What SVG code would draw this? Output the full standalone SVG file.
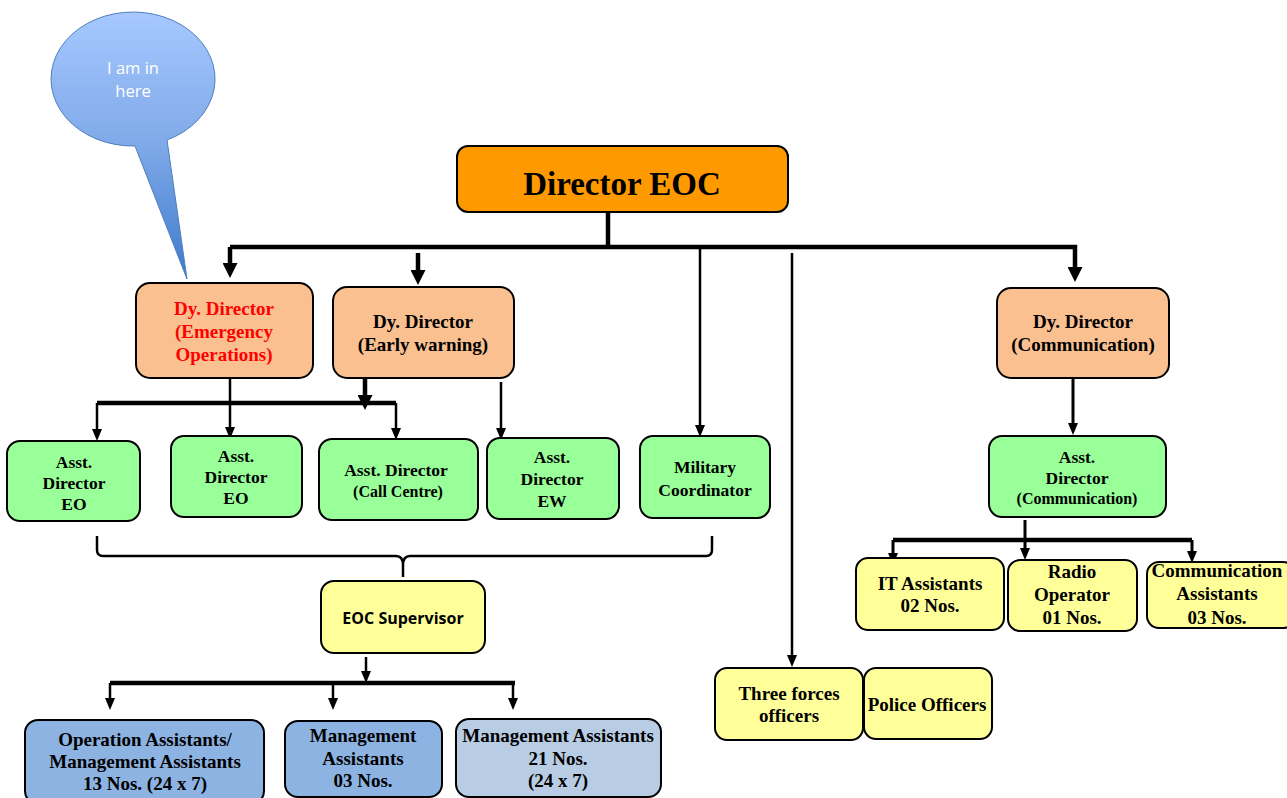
<svg xmlns="http://www.w3.org/2000/svg" width="1287" height="798" viewBox="0 0 1287 798">
<style>
.box{stroke:#000;stroke-width:2}
.top{fill:#FF9900}
.dy{fill:#FAC090}
.grn{fill:#99FF99}
.yel{fill:#FFFF99}
.blu{fill:#8DB3E2}
.lblu{fill:#B8CCE4}
.t{font-family:"Liberation Serif","Times New Roman",serif;font-weight:bold;font-size:19px;text-anchor:middle;fill:#000}
.g{font-size:17.5px}
.s16{font-size:16px}
.big{font-size:33px}
.red{fill:#FF0000}
.sans{font-family:"Open Sans","Noto Sans",sans-serif;font-weight:bold;font-size:16px;text-anchor:middle;fill:#000}
.bt{font-family:"Open Sans","Noto Sans",sans-serif;font-size:16.5px;text-anchor:middle;fill:#FFFFFF}
.thick{fill:none;stroke:#000;stroke-width:4.5}
.thin{fill:none;stroke:#000;stroke-width:2.5}
.mid{stroke-width:3}
</style>
<defs>
<marker id="big" viewBox="0 0 15 15" refX="0" refY="7.5" markerWidth="15" markerHeight="15" markerUnits="userSpaceOnUse" orient="auto"><path d="M0 0 L15 7.5 L0 15 Z" fill="#000"/></marker>
<marker id="sm" viewBox="0 0 12 10" refX="0" refY="5" markerWidth="12" markerHeight="10" markerUnits="userSpaceOnUse" orient="auto"><path d="M0 0 L12 5 L0 10 Z" fill="#000"/></marker>
<linearGradient id="bub" x1="0" y1="0" x2="0" y2="1">
<stop offset="0" stop-color="#A6C8FF"/>
<stop offset="0.5" stop-color="#7FA9E8"/>
<stop offset="1" stop-color="#3D7ACB"/>
</linearGradient>
</defs>

<g id="bubble">
<path d="M167 140 L187 279 L135 146 A82 67 0 1 1 167 140 Z" fill="url(#bub)" stroke="#4F7EBD" stroke-width="1"/>
<text class="bt" x="133" y="74">I am in</text>
<text class="bt" x="133" y="97">here</text>
</g>

<g id="connectors">
<path class="thick" d="M608 212 V247"/>
<path class="thick" d="M230 247 H1075 V267" marker-end="url(#big)"/>
<path class="thick" d="M230 247 V263" marker-end="url(#big)"/>
<path class="thick" d="M418 253 V270" marker-end="url(#big)"/>
<path class="thin" d="M700 249 V425" marker-end="url(#sm)"/>
<path class="thin" d="M792 253 V655" marker-end="url(#sm)"/>
<path class="thick" d="M97 403 H396"/>
<path class="thick" d="M365 378 V395" marker-end="url(#big)"/>
<path class="thin" d="M230 378 V427" marker-end="url(#sm)"/>
<path class="thin" d="M97 403 V429" marker-end="url(#sm)"/>
<path class="thin" d="M396 403 V428" marker-end="url(#sm)"/>
<path class="thin" d="M501 382 V428" marker-end="url(#sm)"/>
<path class="thin mid" d="M1073 378 V423" marker-end="url(#sm)"/>
<path class="thin mid" d="M1025 520 V548" marker-end="url(#sm)"/>
<path class="thick" d="M893 540 H1192"/>
<path class="thin mid" d="M893 540 V553" marker-end="url(#sm)"/>
<path class="thin mid" d="M1192 540 V551" marker-end="url(#sm)"/>
<path class="thin" d="M97 536 V550 Q97 556 103 556 H396 Q403 556 403 565 V577 M403 565 Q403 556 410 556 H706 Q712 556 712 550 V536"/>
<path class="thin" d="M366 657 V671" marker-end="url(#sm)"/>
<path class="thick" d="M110 683 H515"/>
<path class="thin" d="M110 683 V698" marker-end="url(#sm)"/>
<path class="thin" d="M333 683 V698" marker-end="url(#sm)"/>
<path class="thin" d="M513 683 V698" marker-end="url(#sm)"/>
</g>

<g id="director">
<rect class="box top" x="457" y="146" width="331" height="66" rx="11"/>
<text class="t big" x="622" y="195">Director EOC</text>
</g>

<g id="dy-eo">
<rect class="box dy" x="136" y="283" width="177" height="95" rx="14"/>
<text class="t red" x="224" y="315">Dy. Director</text>
<text class="t red" x="224" y="338">(Emergency</text>
<text class="t red" x="224" y="361">Operations)</text>
</g>

<g id="dy-ew">
<rect class="box dy" x="333" y="287" width="181" height="91" rx="14"/>
<text class="t" x="423" y="328">Dy. Director</text>
<text class="t" x="423" y="351">(Early warning)</text>
</g>

<g id="dy-comm">
<rect class="box dy" x="997" y="288" width="172" height="90" rx="14"/>
<text class="t" x="1083" y="328">Dy. Director</text>
<text class="t" x="1083" y="351">(Communication)</text>
</g>

<g id="ad-eo1">
<rect class="box grn" x="7" y="441" width="133" height="80" rx="13"/>
<text class="t g" x="74" y="468">Asst.</text>
<text class="t g" x="74" y="489">Director</text>
<text class="t g" x="74" y="510">EO</text>
</g>

<g id="ad-eo2">
<rect class="box grn" x="171" y="436" width="131" height="81" rx="13"/>
<text class="t g" x="236" y="462">Asst.</text>
<text class="t g" x="236" y="483">Director</text>
<text class="t g" x="236" y="504">EO</text>
</g>

<g id="ad-cc">
<rect class="box grn" x="319" y="439" width="159" height="81" rx="13"/>
<text class="t g" x="396" y="476">Asst. Director</text>
<text class="t s16" x="398" y="497">(Call Centre)</text>
</g>

<g id="ad-ew">
<rect class="box grn" x="487" y="438" width="132" height="81" rx="13"/>
<text class="t g" x="552" y="463">Asst.</text>
<text class="t g" x="552" y="485">Director</text>
<text class="t g" x="552" y="507">EW</text>
</g>

<g id="military">
<rect class="box grn" x="640" y="436" width="130" height="82" rx="13"/>
<text class="t g" x="705" y="473">Military</text>
<text class="t g" x="705" y="496">Coordinator</text>
</g>

<g id="ad-comm">
<rect class="box grn" x="989" y="436" width="177" height="81" rx="13"/>
<text class="t g" x="1077" y="463">Asst.</text>
<text class="t g" x="1077" y="484">Director</text>
<text class="t s16" x="1077" y="504">(Communication)</text>
</g>

<g id="supervisor">
<rect class="box yel" x="321" y="581" width="164" height="72" rx="13"/>
<text class="sans" x="403" y="624">EOC Supervisor</text>
</g>

<g id="ops-asst">
<rect class="box blu" x="25" y="720" width="239" height="84" rx="13"/>
<text class="t" x="145" y="746">Operation Assistants/</text>
<text class="t" x="145" y="768">Management Assistants</text>
<text class="t" x="145" y="790">13 Nos. (24 x 7)</text>
</g>

<g id="mgmt-03">
<rect class="box blu" x="285" y="721" width="157" height="76" rx="13"/>
<text class="t" x="363" y="742">Management</text>
<text class="t" x="363" y="765">Assistants</text>
<text class="t" x="363" y="787">03 Nos.</text>
</g>

<g id="mgmt-21">
<rect class="box lblu" x="456" y="719" width="205" height="78" rx="13"/>
<text class="t" x="558" y="742">Management Assistants</text>
<text class="t" x="558" y="765">21 Nos.</text>
<text class="t" x="558" y="787">(24 x 7)</text>
</g>

<g id="it">
<rect class="box yel" x="856" y="558" width="148" height="72" rx="12"/>
<text class="t" x="930" y="590">IT Assistants</text>
<text class="t" x="930" y="612">02 Nos.</text>
</g>

<g id="radio">
<rect class="box yel" x="1008" y="560" width="129" height="71" rx="12"/>
<text class="t" x="1072" y="578">Radio</text>
<text class="t" x="1072" y="601">Operator</text>
<text class="t" x="1072" y="624">01 Nos.</text>
</g>

<g id="comm-asst">
<rect class="box yel" x="1147" y="562" width="148" height="66" rx="12"/>
<text class="t" x="1217" y="577">Communication</text>
<text class="t" x="1217" y="600">Assistants</text>
<text class="t" x="1217" y="624">03 Nos.</text>
</g>

<g id="three-forces">
<rect class="box yel" x="715" y="668" width="148" height="72" rx="12"/>
<text class="t" x="789" y="700">Three forces</text>
<text class="t" x="789" y="722">officers</text>
</g>

<g id="police">
<rect class="box yel" x="864" y="668" width="128" height="71" rx="12"/>
<text class="t" x="927" y="711">Police Officers</text>
</g>
</svg>
